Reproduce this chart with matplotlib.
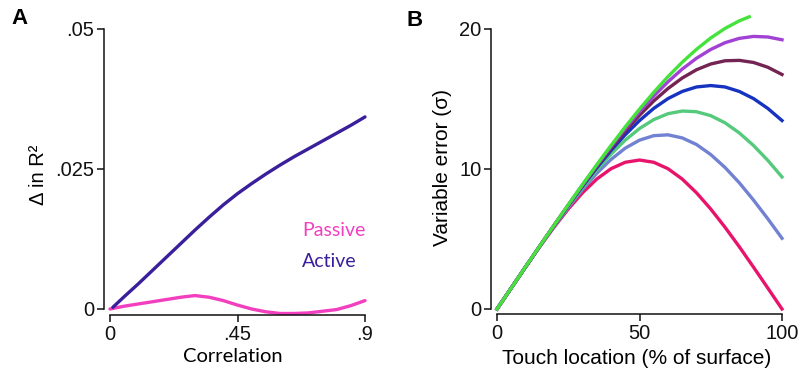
import matplotlib
matplotlib.use("Agg")
import matplotlib.pyplot as plt

# ---------------- Panel A data ----------------
corr_active = [0.01, 0.05, 0.10, 0.15, 0.20, 0.25, 0.30, 0.35, 0.40, 0.45, 0.50,
               0.55, 0.60, 0.65, 0.70, 0.75, 0.80, 0.85, 0.90]
dr2_active = [0.0003, 0.0022, 0.0045, 0.0069, 0.0093, 0.0117, 0.0141, 0.0164, 0.0186,
              0.0206, 0.0224, 0.0241, 0.0257, 0.0272, 0.0286, 0.0300, 0.0314, 0.0328, 0.0343]

corr_passive = [0.00, 0.05, 0.10, 0.15, 0.20, 0.25, 0.30, 0.35, 0.40, 0.45, 0.50,
                0.55, 0.60, 0.65, 0.70, 0.75, 0.80, 0.85, 0.90]
dr2_passive = [0.0000, 0.0005, 0.0009, 0.0013, 0.0017, 0.0021, 0.0024, 0.0021, 0.0015,
               0.0007, 0.0000, -0.0005, -0.0008, -0.0008, -0.0007, -0.0004, -0.0001, 0.0006, 0.0015]

a_xticks = [0, 0.45, 0.9]
a_xticklabels = ["0", ".45", ".9"]
a_yticks = [0, 0.025, 0.05]
a_yticklabels = ["0", ".025", ".05"]

# ---------------- Panel B data ----------------
touch = [0, 5, 10, 15, 20, 25, 30, 35, 40, 45, 50, 55, 60, 65, 70, 75, 80, 85, 90, 95, 100]
err_pink = [0, 1.50, 2.99, 4.45, 5.84, 7.14, 8.30, 9.28, 10.02, 10.48, 10.64,
            10.48, 10.02, 9.28, 8.30, 7.14, 5.84, 4.45, 2.99, 1.50, 0.0]
err_slate = [0, 1.50, 3.00, 4.47, 5.90, 7.26, 8.54, 9.69, 10.68, 11.49, 12.06,
             12.38, 12.44, 12.22, 11.75, 11.03, 10.11, 9.02, 7.78, 6.45, 5.05]
err_midgreen = [0, 1.50, 3.00, 4.48, 5.93, 7.33, 8.67, 9.92, 11.06, 12.06, 12.89,
                13.53, 13.95, 14.14, 14.09, 13.81, 13.30, 12.58, 11.68, 10.62, 9.43]
err_blue = [0, 1.50, 3.00, 4.49, 5.95, 7.38, 8.76, 10.08, 11.32, 12.45, 13.46,
            14.33, 15.03, 15.54, 15.86, 15.96, 15.86, 15.54, 15.03, 14.33, 13.46]
err_maroon = [0, 1.50, 3.00, 4.49, 5.97, 7.41, 8.82, 10.18, 11.48, 12.71, 13.84,
              14.86, 15.75, 16.50, 17.09, 17.50, 17.73, 17.76, 17.61, 17.27, 16.75]
err_purple = [0, 1.50, 3.01, 4.50, 5.98, 7.43, 8.86, 10.25, 11.60, 12.88, 14.09,
              15.21, 16.23, 17.14, 17.91, 18.54, 19.02, 19.33, 19.47, 19.43, 19.23]
touch_green = [0, 5, 10, 15, 20, 25, 30, 35, 40, 45, 50, 55, 60, 65, 70, 75, 80, 85, 88.5]
err_green = [0, 1.50, 3.01, 4.50, 5.98, 7.45, 8.89, 10.31, 11.68, 13.01, 14.28,
             15.48, 16.60, 17.63, 18.55, 19.36, 20.04, 20.58, 20.87]

b_xticks = [0, 50, 100]
b_yticks = [0, 10, 20]

FONT = "Liberation Sans"
plt.rcParams["font.family"] = [FONT, "DejaVu Sans"]

W, H = 802, 374
fig = plt.figure(figsize=(W / 100, H / 100), dpi=100)


def px_axes(x0, x1, y_top, y_bot):
    return fig.add_axes([x0 / W, (H - y_bot) / H, (x1 - x0) / W, (y_bot - y_top) / H])


def style(ax, left_off, bot_off):
    for s in ["top", "right"]:
        ax.spines[s].set_visible(False)
    ax.spines["left"].set_position(("outward", left_off * 0.72))
    ax.spines["bottom"].set_position(("outward", bot_off * 0.72))
    for s in ["left", "bottom"]:
        ax.spines[s].set_linewidth(1.1)
        ax.spines[s].set_color("#111111")
    ax.tick_params(direction="out", length=5, width=1.1, colors="#111111",
                   labelsize=14.5, pad=2)
    ax.patch.set_alpha(0)


# ---------------- Panel A ----------------
axA = px_axes(110, 365, 29, 309)
kwA = dict(lw=2.4, clip_on=False, solid_joinstyle="round", solid_capstyle="round")
axA.plot(corr_passive, dr2_passive, color="#F23FBF", **kwA)
axA.plot(corr_active, dr2_active, color="#3A1F9C", **kwA)
axA.set_xlim(0, 0.9)
axA.set_ylim(0, 0.05)
axA.set_xticks(a_xticks)
axA.set_xticklabels(a_xticklabels)
axA.set_yticks(a_yticks)
axA.set_yticklabels(a_yticklabels)
style(axA, 6, 6)
axA.text(0.753, 0.282, "Passive", transform=axA.transAxes, color="#F23FBF",
         fontsize=14, family=["Lato", "DejaVu Sans"], ha="left", va="center")
axA.text(0.753, 0.171, "Active", transform=axA.transAxes, color="#3A1F9C",
         fontsize=14, family=["Lato", "DejaVu Sans"], ha="left", va="center")

fig.text(233 / W, 1 - 357 / H, "Correlation", fontsize=14.5, family=["Lato", "DejaVu Sans"],
         ha="center", va="center")
fig.text(38 / W, 1 - 175 / H, "Δ in R²", fontsize=14.5, rotation=90,
         ha="center", va="center")
fig.text(20 / W, 1 - 18 / H, "A", fontsize=16, fontweight="bold", ha="center", va="center")

# ---------------- Panel B ----------------
axB = px_axes(497, 782, 29, 309)
kw = dict(lw=2.4, clip_on=False, solid_joinstyle="round")
axB.plot(touch, err_pink, color="#E8146C", **kw)
axB.plot(touch, err_slate, color="#7282D2", **kw)
axB.plot(touch, err_midgreen, color="#55CA7C", **kw)
axB.plot(touch, err_blue, color="#1533C0", **kw)
axB.plot(touch, err_maroon, color="#742452", **kw)
axB.plot(touch, err_purple, color="#A142D4", **kw)
axB.plot(touch_green, err_green, color="#46E23C", **kw)
axB.set_xlim(0, 100)
axB.set_ylim(0, 20)
axB.set_xticks(b_xticks)
axB.set_yticks(b_yticks)
style(axB, 6, 5)

fig.text(637 / W, 1 - 358 / H, "Touch location (% of surface)", fontsize=15,
         ha="center", va="center")
fig.text(443 / W, 1 - 168 / H, "Variable error (σ)", fontsize=15, rotation=90,
         ha="center", va="center")
fig.text(415 / W, 1 - 20 / H, "B", fontsize=16, fontweight="bold", ha="center", va="center")

fig.savefig("out.png", dpi=100)
